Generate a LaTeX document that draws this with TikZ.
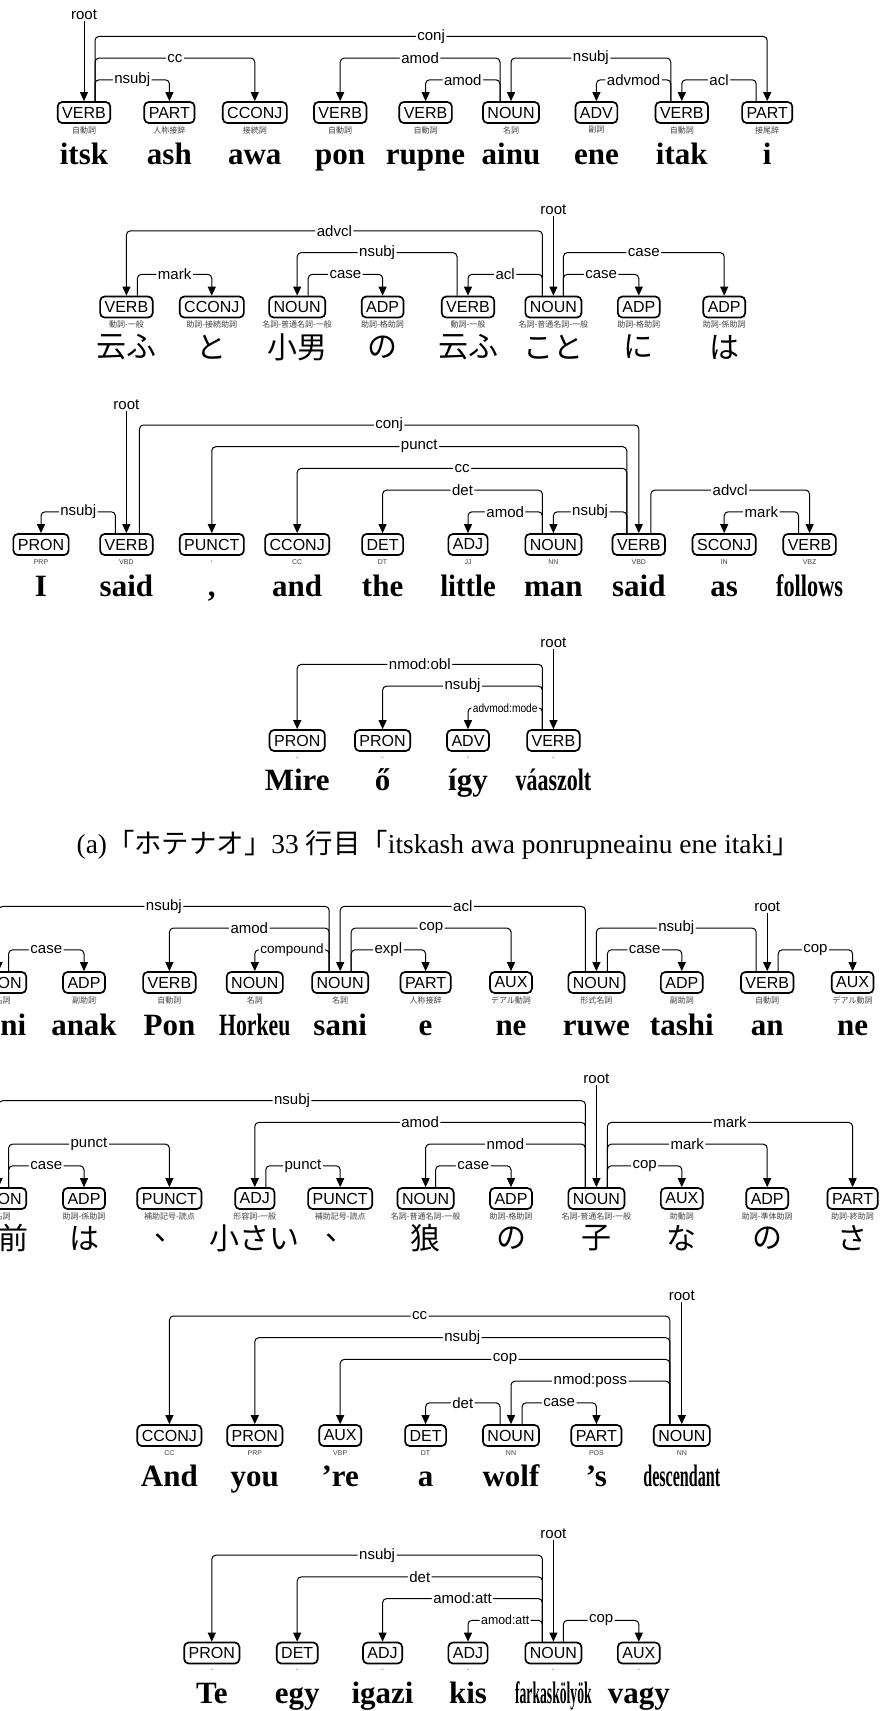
\documentclass[tikz,border=0pt]{standalone}
\usepackage{fontspec}
\usepackage{graphicx}
\setmainfont{Liberation Serif}
\newfontfamily\labfont{Liberation Sans}
\newfontfamily\jpfont{Noto Sans CJK JP}
\usetikzlibrary{arrows.meta,calc}
\newcommand{\etag}[1]{{\labfont\fontsize{7}{7}\selectfont #1}}
\newcommand{\smalltxt}[1]{\scalebox{0.85}[1]{\fontsize{12}{12}\selectfont #1}}
\newcommand{\smallertxt}[1]{\scalebox{0.95}[1]{\fontsize{13}{13}\selectfont #1}}
\newcommand{\midtxt}[1]{{\fontsize{13.5}{13.5}\selectfont #1}}
% Latin token: name, x, box y, POS, tag, word, baseline
\newcommand{\tokL}[7]{%
  \node[posbox] (#1) at (#2,#3) {#4};
  \node[tagtxt] (#1t) at (#2,#3+17.5) {#5};
  \node[wordtxt,anchor=base] (#1w) at (#2,#7) {#6};}
% Japanese token: name, x, box y, POS, tag, word, word centre
\newcommand{\tokJ}[7]{%
  \node[posbox] (#1) at (#2,#3) {#4};
  \node[tagtxt] (#1t) at (#2,#3+17.5) {#5};
  \node[jptxt] (#1w) at (#2,#7) {#6};}
% arc: head, head offset, dependent, level y, label
\newcommand{\deparc}[5]{%
  \draw[arcline] let \p1=([xshift=#2]#1.north), \p2=(#3.north), \p3=(0,#4) in
    (\p1) -- (\x1,\y3) -- node[lbl]{#5} (\x2,\y3) -- (\p2);}
% root: label name, dependent, label y
\newcommand{\rootarc}[3]{%
  \node[lbl] (#1) at (#2.north |- 0,#3) {root};
  \draw[arcline] (#1.south) -- (#2.north);}
\begin{document}
\begin{tikzpicture}[x=1pt,y=-1pt,
  posbox/.style={draw, line width=1.7pt, rounded corners=4.5pt, minimum height=21pt,
    inner xsep=4.5pt, inner ysep=0pt, font=\labfont\fontsize{16}{16}\selectfont},
  tagtxt/.style={inner sep=0pt, text=black!75, font=\jpfont\fontsize{8}{8}\selectfont},
  wordtxt/.style={inner sep=0pt, font=\fontsize{31}{31}\selectfont\bfseries},
  jptxt/.style={inner sep=0pt, font=\jpfont\fontsize{30}{30}\selectfont},
  lbl/.style={fill=white, inner xsep=1.5pt, inner ysep=1pt, font=\labfont\fontsize{15}{15}\selectfont},
  arcline/.style={line width=1pt, rounded corners=4pt, -{Triangle[length=9pt,width=8pt]}}]
\useasboundingbox (0,0) rectangle (882,1711);
\clip (0,0) rectangle (882,1711);

% ---------- block 1 ----------
\tokL{a1}{84}{112.5}{VERB}{自動詞}{itsk}{164.5}
\tokL{a2}{169.4}{112.5}{PART}{人称接辞}{ash}{164.5}
\tokL{a3}{254.8}{112.5}{CCONJ}{接続詞}{awa}{164.5}
\tokL{a4}{340.2}{112.5}{VERB}{自動詞}{pon}{164.5}
\tokL{a5}{425.6}{112.5}{VERB}{自動詞}{rupne}{164.5}
\tokL{a6}{511}{112.5}{NOUN}{名詞}{ainu}{164.5}
\tokL{a7}{596.4}{112.5}{ADV}{副詞}{ene}{164.5}
\tokL{a8}{681.8}{112.5}{VERB}{自動詞}{itak}{164.5}
\tokL{a9}{767.2}{112.5}{PART}{接尾辞}{i}{164.5}
\rootarc{ra}{a1}{15}
\deparc{a1}{11pt}{a9}{36.4}{conj}
\deparc{a1}{11pt}{a3}{58.1}{cc}
\deparc{a1}{11pt}{a2}{79.8}{nsubj}
\deparc{a6}{-11pt}{a4}{58.1}{amod}
\deparc{a6}{-11pt}{a5}{79.8}{amod}
\deparc{a8}{-11pt}{a6}{58.1}{nsubj}
\deparc{a8}{-11pt}{a7}{79.8}{advmod}
\deparc{a9}{-11pt}{a8}{79.8}{acl}

% ---------- block 2 ----------
\tokJ{b1}{126.4}{307}{VERB}{動詞-一般}{云ふ}{347}
\tokJ{b2}{211.8}{307}{CCONJ}{助詞-接続助詞}{と}{347}
\tokJ{b3}{297.2}{307}{NOUN}{名詞-普通名詞-一般}{小男}{347}
\tokJ{b4}{382.6}{307}{ADP}{助詞-格助詞}{の}{347}
\tokJ{b5}{468}{307}{VERB}{動詞-一般}{云ふ}{347}
\tokJ{b6}{553.4}{307}{NOUN}{名詞-普通名詞-一般}{こと}{347}
\tokJ{b7}{638.8}{307}{ADP}{助詞-格助詞}{に}{347}
\tokJ{b8}{724.2}{307}{ADP}{助詞-係助詞}{は}{347}
\rootarc{rb}{b6}{209.5}
\deparc{b6}{-11pt}{b1}{230.9}{advcl}
\deparc{b5}{-11pt}{b3}{252.6}{nsubj}
\deparc{b1}{11pt}{b2}{274.3}{mark}
\deparc{b3}{11pt}{b4}{274.3}{case}
\deparc{b6}{-11pt}{b5}{274.3}{acl}
\deparc{b6}{10pt}{b8}{252.6}{case}
\deparc{b6}{10pt}{b7}{274.3}{case}

% ---------- block 3 ----------
\tokL{c1}{41}{544.5}{PRON}{\etag{PRP}}{I}{596}
\tokL{c2}{126.4}{544.5}{VERB}{\etag{VBD}}{said}{596}
\tokL{c3}{211.8}{544.5}{PUNCT}{\etag{,}}{,}{596}
\tokL{c4}{297.2}{544.5}{CCONJ}{\etag{CC}}{and}{596}
\tokL{c5}{382.6}{544.5}{DET}{\etag{DT}}{the}{596}
\tokL{c6}{468}{544.5}{ADJ}{\etag{JJ}}{\scalebox{0.92}[1]{little}}{596}
\tokL{c7}{553.4}{544.5}{NOUN}{\etag{NN}}{man}{596}
\tokL{c8}{638.8}{544.5}{VERB}{\etag{VBD}}{said}{596}
\tokL{c9}{724.2}{544.5}{SCONJ}{\etag{IN}}{as}{596}
\tokL{c10}{809.6}{544.5}{VERB}{\etag{VBZ}}{\scalebox{0.72}[1]{follows}}{596}
\rootarc{rc}{c2}{405}
\deparc{c2}{13pt}{c8}{425}{conj}
\deparc{c8}{-12pt}{c3}{446.7}{punct}
\deparc{c8}{-12pt}{c4}{468.4}{cc}
\deparc{c7}{-11pt}{c5}{490.1}{det}
\deparc{c7}{-11pt}{c6}{511.8}{amod}
\deparc{c2}{-11pt}{c1}{511.8}{nsubj}
\deparc{c8}{-12pt}{c7}{511.8}{nsubj}
\deparc{c8}{12pt}{c10}{490.1}{advcl}
\deparc{c10}{-11pt}{c9}{511.8}{mark}

% ---------- block 4 ----------
\tokL{d1}{297.2}{740.5}{PRON}{\etag{-}}{Mire}{790}
\tokL{d2}{382.6}{740.5}{PRON}{\etag{-}}{ő}{790}
\tokL{d3}{468}{740.5}{ADV}{\etag{-}}{így}{790}
\tokL{d4}{553.4}{740.5}{VERB}{\etag{-}}{\scalebox{0.71}[1]{váaszolt}}{790}
\rootarc{rd}{d4}{643}
\deparc{d4}{-11pt}{d1}{664.4}{nmod:obl}
\deparc{d4}{-11pt}{d2}{686.1}{nsubj}
\deparc{d4}{-11pt}{d3}{707.8}{\smalltxt{advmod:mode}}

% ---------- caption ----------
\node[inner sep=0pt, anchor=base, font=\fontsize{27.4}{27.4}\selectfont] (cap) at (438.5,853)
  {(a){\jpfont 「ホテナオ」}33 {\jpfont 行目「}itskash awa ponrupneainu ene itaki{\jpfont 」}};

% ---------- block 5 ----------
\tokL{e0}{-1.4}{982.5}{PRON}{代名詞}{eani}{1035}
\tokL{e1}{84}{982.5}{ADP}{副助詞}{anak}{1035}
\tokL{e2}{169.4}{982.5}{VERB}{自動詞}{Pon}{1035}
\tokL{e3}{254.8}{982.5}{NOUN}{名詞}{\scalebox{0.7}[1]{Horkeu}}{1035}
\tokL{e4}{340.2}{982.5}{NOUN}{名詞}{sani}{1035}
\tokL{e5}{425.6}{982.5}{PART}{人称接辞}{e}{1035}
\tokL{e6}{511}{982.5}{AUX}{デアル動詞}{ne}{1035}
\tokL{e7}{596.4}{982.5}{NOUN}{形式名詞}{ruwe}{1035}
\tokL{e8}{681.8}{982.5}{ADP}{副助詞}{tashi}{1035}
\tokL{e9}{767.2}{982.5}{VERB}{自動詞}{an}{1035}
\tokL{e10}{852.6}{982.5}{AUX}{デアル動詞}{ne}{1035}
\rootarc{re}{e9}{906.4}
\deparc{e4}{-11pt}{e0}{906.4}{nsubj}
\deparc{e0}{10pt}{e1}{949.8}{case}
\deparc{e4}{-11pt}{e2}{928.1}{amod}
\deparc{e4}{-11pt}{e3}{949.8}{\midtxt{compound}}
\deparc{e7}{-11pt}{e4}{906.4}{acl}
\deparc{e4}{11pt}{e6}{928.1}{cop}
\deparc{e4}{11pt}{e5}{949.8}{expl}
\deparc{e9}{-11pt}{e7}{928.1}{nsubj}
\deparc{e7}{11pt}{e8}{949.8}{case}
\deparc{e9}{11pt}{e10}{949.8}{cop}

% ---------- block 6 ----------
\tokJ{f0}{-1.4}{1198.5}{PRON}{代名詞}{お前}{1238}
\tokJ{f1}{84}{1198.5}{ADP}{助詞-係助詞}{は}{1238}
\tokJ{f2}{169.4}{1198.5}{PUNCT}{補助記号-読点}{、}{1238}
\tokJ{f3}{254.8}{1198.5}{ADJ}{形容詞-一般}{小さい}{1238}
\tokJ{f4}{340.2}{1198.5}{PUNCT}{補助記号-読点}{、}{1238}
\tokJ{f5}{425.6}{1198.5}{NOUN}{名詞-普通名詞-一般}{狼}{1238}
\tokJ{f6}{511}{1198.5}{ADP}{助詞-格助詞}{の}{1238}
\tokJ{f7}{596.4}{1198.5}{NOUN}{名詞-普通名詞-一般}{子}{1238}
\tokJ{f8}{681.8}{1198.5}{AUX}{助動詞}{な}{1238}
\tokJ{f9}{767.2}{1198.5}{ADP}{助詞-準体助詞}{の}{1238}
\tokJ{f10}{852.6}{1198.5}{PART}{助詞-終助詞}{さ}{1238}
\rootarc{rf}{f7}{1079}
\deparc{f7}{-11pt}{f0}{1100.7}{nsubj}
\deparc{f7}{-11pt}{f3}{1122.4}{amod}
\deparc{f0}{10pt}{f2}{1144.1}{punct}
\deparc{f0}{10pt}{f1}{1165.8}{case}
\deparc{f3}{11pt}{f4}{1165.8}{punct}
\deparc{f7}{-11pt}{f5}{1144.1}{nmod}
\deparc{f5}{10pt}{f6}{1165.8}{case}
\deparc{f7}{11pt}{f10}{1122.4}{mark}
\deparc{f7}{11pt}{f9}{1144.1}{mark}
\deparc{f7}{11pt}{f8}{1165.8}{cop}

% ---------- block 7 ----------
\tokL{g1}{169.4}{1435.5}{CCONJ}{\etag{CC}}{And}{1486}
\tokL{g2}{254.8}{1435.5}{PRON}{\etag{PRP}}{you}{1486}
\tokL{g3}{340.2}{1435.5}{AUX}{\etag{VBP}}{’re}{1486}
\tokL{g4}{425.6}{1435.5}{DET}{\etag{DT}}{a}{1486}
\tokL{g5}{511}{1435.5}{NOUN}{\etag{NN}}{wolf}{1486}
\tokL{g6}{596.4}{1435.5}{PART}{\etag{POS}}{’s}{1486}
\tokL{g7}{681.8}{1435.5}{NOUN}{\etag{NN}}{\scalebox{0.52}[1]{descendant}}{1486}
\rootarc{rg}{g7}{1296}
\deparc{g7}{-12pt}{g1}{1316}{cc}
\deparc{g7}{-12pt}{g2}{1337.7}{nsubj}
\deparc{g7}{-12pt}{g3}{1359.4}{cop}
\deparc{g7}{-12pt}{g5}{1381.1}{nmod:poss}
\deparc{g5}{-11pt}{g4}{1402.8}{det}
\deparc{g5}{11pt}{g6}{1402.8}{case}

% ---------- block 8 ----------
\tokL{h1}{211.8}{1653}{PRON}{\etag{-}}{Te}{1703}
\tokL{h2}{297.2}{1653}{DET}{\etag{-}}{egy}{1703}
\tokL{h3}{382.6}{1653}{ADJ}{\etag{-}}{igazi}{1703}
\tokL{h4}{468}{1653}{ADJ}{\etag{-}}{kis}{1703}
\tokL{h5}{553.4}{1653}{NOUN}{\etag{-}}{\scalebox{0.44}[1]{farkaskölyök}}{1703}
\tokL{h6}{638.8}{1653}{AUX}{\etag{-}}{vagy}{1703}
\rootarc{rh}{h5}{1534}
\deparc{h5}{-11pt}{h1}{1555.2}{nsubj}
\deparc{h5}{-11pt}{h2}{1576.9}{det}
\deparc{h5}{-11pt}{h3}{1598.6}{amod:att}
\deparc{h5}{-11pt}{h4}{1620.3}{\smallertxt{amod:att}}
\deparc{h5}{10pt}{h6}{1620.3}{cop}
\end{tikzpicture}
\end{document}
